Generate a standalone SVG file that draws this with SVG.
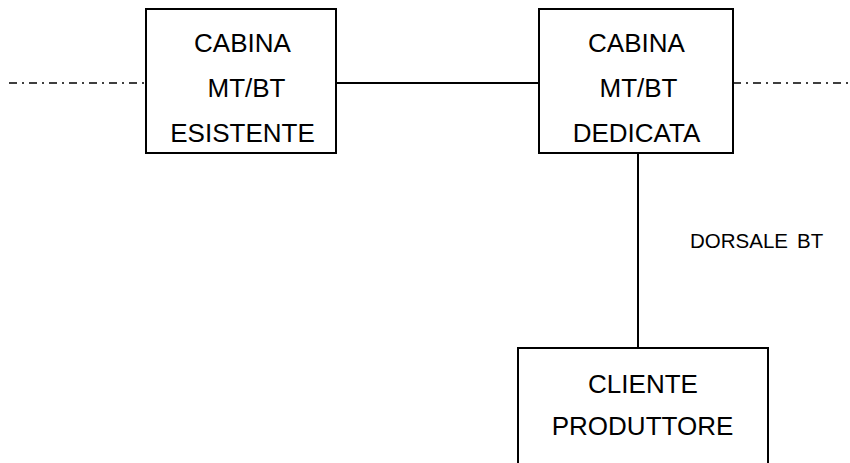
<svg xmlns="http://www.w3.org/2000/svg" width="850" height="463" viewBox="0 0 850 463">
<style>
.box{fill:#fff;stroke:#000;stroke-width:2}
.ln{stroke:#000;stroke-width:2;fill:none}
.dd{stroke:#000;stroke-width:1.5;fill:none;stroke-dasharray:8 5 2 5}
text{font-family:"Liberation Sans",Arial,sans-serif;font-size:26px;fill:#000;text-anchor:middle}
.lbl{font-size:20.5px;text-anchor:start}
</style>
<rect width="850" height="463" fill="#fff"/>
<g id="connectors">
<line class="dd" x1="9" y1="83" x2="146" y2="83"/>
<line class="dd" x1="733" y1="83" x2="850" y2="83"/>
<line class="ln" x1="336" y1="83" x2="539" y2="83"/>
<line class="ln" x1="638" y1="153" x2="638" y2="348"/>
<text class="lbl" x="690" y="248">DORSALE</text>
<text class="lbl" x="797" y="248">BT</text>
</g>
<g id="cabina-esistente">
<rect class="box" x="146" y="9" width="190" height="144"/>
<text x="242.5" y="52">CABINA</text>
<text x="246.5" y="97">MT/BT</text>
<text x="242.5" y="142">ESISTENTE</text>
</g>
<g id="cabina-dedicata">
<rect class="box" x="539" y="9" width="194" height="144"/>
<text x="636.5" y="52">CABINA</text>
<text x="638.5" y="97">MT/BT</text>
<text x="636.5" y="142">DEDICATA</text>
</g>
<g id="cliente-produttore">
<rect class="box" x="518" y="348" width="250" height="130"/>
<text x="643" y="393">CLIENTE</text>
<text x="642.5" y="435">PRODUTTORE</text>
</g>
</svg>
